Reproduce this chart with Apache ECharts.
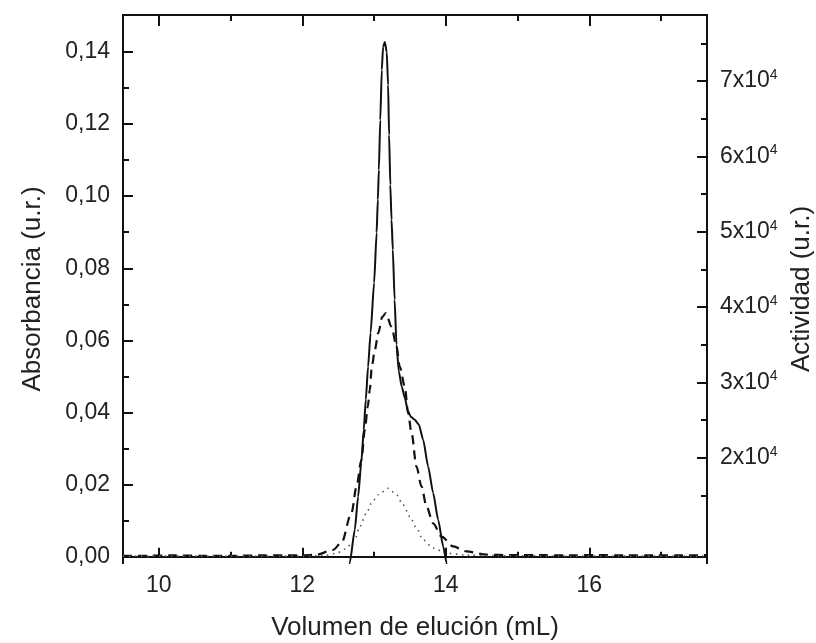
<!DOCTYPE html>
<html>
<head>
<meta charset="utf-8">
<script src="https://cdn.jsdelivr.net/npm/echarts@6/dist/echarts.min.js"></script>
<style>
html,body{margin:0;padding:0;background:#fff;}
#chart{width:816px;height:643px;}
</style>
</head>
<body>
<div id="chart"></div>
<script>
// ---- data ----
const xMajorTicks = [10, 12, 14, 16];
const xMinorTicks = [11, 13, 15, 17];
const yLeftMajor = [0, 0.02, 0.04, 0.06, 0.08, 0.10, 0.12, 0.14];
const yLeftMinor = [0.01, 0.03, 0.05, 0.07, 0.09, 0.11, 0.13];
const yRightMajor = [20000, 30000, 40000, 50000, 60000, 70000];
const yRightMinor = [15000, 25000, 35000, 45000, 55000, 65000, 75000];

// Absorbancia (dashed)
const dashedX = [9.5, 9.8, 10.2, 10.6, 11.0, 11.4, 11.8, 12.0, 12.196, 12.424, 12.545, 12.685, 12.754, 12.824, 12.87, 12.912, 12.94, 12.968, 13.01, 13.059, 13.114, 13.163, 13.243, 13.312, 13.358, 13.428, 13.474, 13.522, 13.591, 13.661, 13.731, 13.823, 13.94, 14.102, 14.289, 14.568, 14.9, 15.3, 15.7, 16.1, 16.5, 16.9, 17.3, 17.64];
const dashedY = [0.0003, 0.0003, 0.0004, 0.0003, 0.0003, 0.0004, 0.0004, 0.0004, 0.0006, 0.0019, 0.0039, 0.0122, 0.0194, 0.0269, 0.0352, 0.0416, 0.0463, 0.0527, 0.0574, 0.0621, 0.0665, 0.0676, 0.0638, 0.0583, 0.0527, 0.0472, 0.0398, 0.0343, 0.0250, 0.0195, 0.0139, 0.0093, 0.0056, 0.0029, 0.0015, 0.0006, 0.0005, 0.0005, 0.0004, 0.0005, 0.0004, 0.0004, 0.0004, 0.0005];

// Absorbancia (dotted)
const dottedX = [9.5, 10.0, 10.5, 11.0, 11.5, 12.0, 12.3, 12.475, 12.6, 12.731, 12.8, 12.894, 12.964, 13.056, 13.195, 13.312, 13.405, 13.498, 13.591, 13.684, 13.823, 14.01, 14.289, 14.7, 15.2, 15.7, 16.2, 16.7, 17.2, 17.64];
const dottedY = [0.0002, 0.0002, 0.0002, 0.0002, 0.0002, 0.0002, 0.0004, 0.0010, 0.0022, 0.0047, 0.0084, 0.0121, 0.0149, 0.0172, 0.0190, 0.0172, 0.0144, 0.0112, 0.0080, 0.0047, 0.0024, 0.0010, 0.0005, 0.0003, 0.0003, 0.0002, 0.0002, 0.0002, 0.0002, 0.0002];

// Actividad (solid, right axis)
const solidX = [12.62, 12.661, 12.731, 12.777, 12.821, 12.856, 12.884, 12.916, 12.951, 13.0, 13.035, 13.052, 13.066, 13.086, 13.107, 13.125, 13.149, 13.176, 13.195, 13.209, 13.226, 13.243, 13.261, 13.286, 13.312, 13.345, 13.386, 13.428, 13.47, 13.512, 13.568, 13.624, 13.684, 13.753, 13.823, 13.893, 13.963, 14.01, 14.03];
const solidY = [3000, 6074, 10451, 14828, 19337, 23714, 27692, 32069, 36578, 43210, 49841, 54218, 58196, 64828, 71459, 74509, 75172, 73846, 69469, 62838, 56207, 51565, 47586, 40955, 34987, 31406, 29416, 27958, 26233, 25438, 25040, 24377, 22387, 18846, 15318, 11777, 8236, 6074, 4000];

const zip = (a, b) => a.map((v, i) => [v, b[i]]);

const X_MIN = 9.5, X_MAX = 17.64;
const YL_MIN = -0.0017, YL_MAX = 0.1502;
const YR_MIN = 6030, YR_MAX = 78750;

const FONT = 'Liberation Sans, Arial, sans-serif';
const TXT = '#222';
const AX = {lineStyle: {color: '#111', width: 2}};

function xAx(pos, ticks, len, labels) {
  return {
    type: 'value', position: pos, min: X_MIN, max: X_MAX,
    axisLine: AX, splitLine: {show: false},
    axisTick: {show: true, inside: true, length: len, customValues: ticks, lineStyle: {color: '#111', width: 2}},
    axisLabel: labels ? {show: true, customValues: ticks, color: TXT, fontSize: 23, fontFamily: FONT, margin: 11} : {show: false}
  };
}
function yAx(pos, min, max, ticks, len, labelCfg) {
  return {
    type: 'value', position: pos, min: min, max: max,
    axisLine: AX, splitLine: {show: false},
    axisTick: {show: true, inside: true, length: len, customValues: ticks, lineStyle: {color: '#111', width: 2}},
    axisLabel: labelCfg ? Object.assign({show: true, customValues: ticks}, labelCfg) : {show: false}
  };
}

const chart = echarts.init(document.getElementById('chart'), null, {renderer: 'canvas'});
const leftMain = yAx('left', YL_MIN, YL_MAX, yLeftMajor, 10, {
  color: TXT, fontSize: 23, fontFamily: FONT, margin: 13,
  formatter: v => v.toFixed(2).replace('.', ',')
});
leftMain.name = 'Absorbancia (u.r.)';
leftMain.nameLocation = 'middle';
leftMain.nameGap = 77;
leftMain.nameRotate = 90;
leftMain.nameTextStyle = {fontSize: 26, fontFamily: FONT, color: TXT};

const rightMain = yAx('right', YR_MIN, YR_MAX, yRightMajor, 10, {
  color: TXT, fontFamily: FONT, margin: 13,
  formatter: v => '{a|' + Math.round(v / 10000) + 'x10}{b|4}',
  rich: {a: {fontSize: 23, fontFamily: FONT, color: TXT}, b: {fontSize: 14, fontFamily: FONT, color: TXT, padding: [0, 0, 12, 0]}}
});
rightMain.name = 'Actividad (u.r.)';
rightMain.nameLocation = 'middle';
rightMain.nameGap = 80;
rightMain.nameRotate = 90;
rightMain.nameTextStyle = {fontSize: 26, fontFamily: FONT, color: TXT};

const bottomMain = xAx('bottom', xMajorTicks, 9, true);
bottomMain.name = 'Volumen de elución (mL)';
bottomMain.nameLocation = 'middle';
bottomMain.nameGap = 52;
bottomMain.nameTextStyle = {fontSize: 26, fontFamily: FONT, color: TXT};

chart.setOption({
  backgroundColor: '#fff',
  animation: false,
  grid: {left: 123, top: 15, right: 109, bottom: 80, containLabel: false, outerBoundsMode: 'none'},
  xAxis: [
    bottomMain,
    xAx('bottom', xMinorTicks, 5, false),
    xAx('top', xMajorTicks, 11, false),
    xAx('top', xMinorTicks, 6, false)
  ],
  yAxis: [
    leftMain,
    yAx('left', YL_MIN, YL_MAX, yLeftMinor, 6, null),
    rightMain,
    yAx('right', YR_MIN, YR_MAX, yRightMinor, 6, null)
  ],
  series: [
    {type: 'line', xAxisIndex: 0, yAxisIndex: 0, data: zip(dashedX, dashedY), symbol: 'none', smooth: 0.3, smoothMonotone: 'x',
     lineStyle: {color: '#111', width: 2.2, type: [9, 6]}},
    {type: 'line', xAxisIndex: 0, yAxisIndex: 0, data: zip(dottedX, dottedY), symbol: 'none', smooth: 0.3, smoothMonotone: 'x',
     lineStyle: {color: '#555', width: 1.6, type: [1.5, 4.5]}},
    {type: 'line', xAxisIndex: 0, yAxisIndex: 2, data: zip(solidX, solidY), symbol: 'none', smooth: 0.2, smoothMonotone: 'x', clip: true,
     lineStyle: {color: '#111', width: 2}}
  ]
});
</script>
</body>
</html>
